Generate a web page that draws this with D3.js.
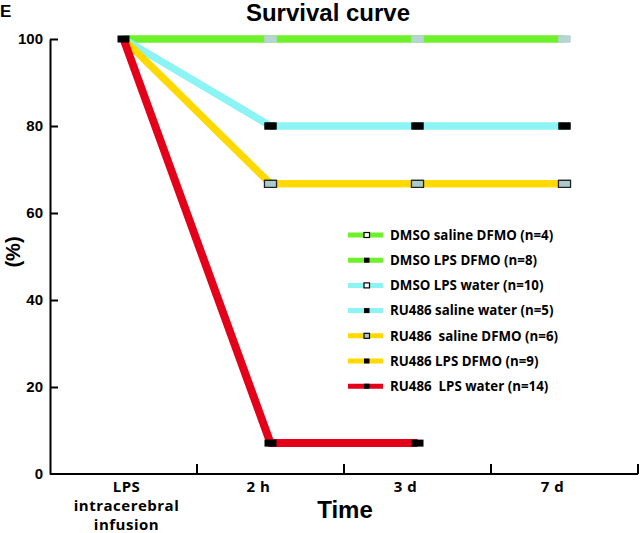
<!DOCTYPE html>
<html>
<head>
<meta charset="utf-8">
<script src="https://cdn.jsdelivr.net/npm/d3@7"></script>
<style>
  html, body { margin: 0; padding: 0; background: #fff; }
  svg { display: block; }
</style>
</head>
<body>
<svg id="chart" width="640" height="533"></svg>
<script>
// ---- data ----
const timeKeys = ["LPS", "2h", "3d", "7d"];
const timeLabels = [["LPS", "intracerebral", "infusion"], ["2 h"], ["3 d"], ["7 d"]];
const groupNames = [
  "DMSO saline DFMO (n=4)",
  "DMSO LPS DFMO (n=8)",
  "DMSO LPS water (n=10)",
  "RU486 saline water (n=5)",
  "RU486\u00a0\u00a0saline DFMO (n=6)",
  "RU486 LPS DFMO (n=9)",
  "RU486\u00a0\u00a0LPS water (n=14)"
];
const dmsoSalineDfmo   = [100, 100, 100, 100];
const dmsoLpsDfmo      = [100, 100, 100, 100];
const dmsoLpsWater     = [100, 80, 80, 80];
const ru486SalineWater = [100, 80, 80, 80];
const ru486SalineDfmo  = [100, 66.7, 66.7, 66.7];
const ru486LpsDfmo     = [100, 66.7, 66.7, 66.7];
const ru486LpsWater    = [100, 7.1, 7.1, null];
const yTicks = [0, 20, 40, 60, 80, 100];

const seriesValues = [dmsoSalineDfmo, dmsoLpsDfmo, dmsoLpsWater, ru486SalineWater,
                      ru486SalineDfmo, ru486LpsDfmo, ru486LpsWater];

// ---- styles ----
const GREEN = "#6ef02a", CYAN = "#8cf4f4", YELLOW = "#ffd900", RED = "#e30018";
const seriesColor = [GREEN, GREEN, CYAN, CYAN, YELLOW, YELLOW, RED];
const seriesWidth = [7, 7, 7, 7, 7, 7, 8];
const chartMarker = ["light", "light", "black", "black", "lightBorder", "lightBorder", "black"];
const legendMarker = ["open", "black", "open", "black", "gray", "black", "black"];

const svg = d3.select("#chart");
const x = d3.scaleBand().domain(timeKeys).range([50, 638]).padding(0);
const y = d3.scaleLinear().domain([0, 100]).range([474, 39]);
const xc = k => x(k) + x.bandwidth() / 2;

// title and panel letter
svg.append("text").attr("x", 0).attr("y", 17)
  .attr("font-family", "Liberation Sans, Arial, sans-serif").attr("font-weight", "bold")
  .attr("font-size", 17).text("E");
svg.append("text").attr("x", 328).attr("y", 21).attr("text-anchor", "middle")
  .attr("font-family", "Liberation Sans, Arial, sans-serif").attr("font-weight", "bold")
  .attr("font-size", 24).text("Survival curve");

// y axis
const yAxis = d3.axisLeft(y).tickValues(yTicks).tickSizeInner(-8).tickSizeOuter(0).tickPadding(7);
const gy = svg.append("g").attr("transform", "translate(50,0)").call(yAxis);
gy.select(".domain").attr("stroke", "#000").attr("stroke-width", 2);
gy.selectAll(".tick line").attr("stroke", "#000").attr("stroke-width", 2)
  .filter(d => d === 0).remove();
gy.selectAll(".tick text").attr("font-family", "Liberation Sans, Arial, sans-serif")
  .attr("font-weight", "bold").attr("font-size", 15).attr("fill", "#000");

svg.append("text")
  .attr("transform", "translate(20,252) rotate(-90)")
  .attr("text-anchor", "middle")
  .attr("font-family", "Liberation Sans, Arial, sans-serif").attr("font-weight", "bold")
  .attr("font-size", 20).text("(%)");

// x axis
const x0 = x.range()[0], x1 = x.range()[1], yb = y(0);
svg.append("path").attr("d", `M${x0},${yb}H${x1}`).attr("stroke", "#000").attr("stroke-width", 2).attr("fill", "none");
svg.selectAll(".xtick").data(timeKeys).enter().append("line")
  .attr("x1", d => x(d) + x.bandwidth()).attr("x2", d => x(d) + x.bandwidth())
  .attr("y1", yb).attr("y2", yb - 10).attr("stroke", "#000").attr("stroke-width", 2);

const xl = svg.selectAll(".xlab").data(timeKeys).enter().append("text")
  .attr("text-anchor", "middle")
  .attr("font-family", "Open Sans, sans-serif").attr("font-weight", "bold")
  .attr("font-size", 15).attr("letter-spacing", 0.5);
xl.each(function (d, i) {
  const t = d3.select(this);
  timeLabels[i].forEach((lineText, j) => {
    t.append("tspan").attr("x", xc(d) + (i === 0 ? 3 : -12)).attr("y", 492 + j * 19).text(lineText);
  });
});

svg.append("text").attr("x", 345).attr("y", 518).attr("text-anchor", "middle")
  .attr("font-family", "Liberation Sans, Arial, sans-serif").attr("font-weight", "bold")
  .attr("font-size", 24).text("Time");

// lines
const line = d3.line()
  .defined(d => d.v != null)
  .x(d => xc(d.k)).y(d => y(d.v));
seriesValues.forEach((vals, s) => {
  svg.append("path")
    .datum(vals.map((v, i) => ({ k: timeKeys[i], v })))
    .attr("d", line).attr("fill", "none")
    .attr("stroke", seriesColor[s]).attr("stroke-width", seriesWidth[s])
    .attr("stroke-linejoin", "round");
});

// markers
function markerStyle(sel, style) {
  if (style === "black") sel.attr("fill", "#000").attr("stroke", "none");
  else if (style === "light") sel.attr("fill", "#b5d4d2").attr("stroke", "none");
  else if (style === "lightBorder") sel.attr("fill", "#a9cbcb").attr("stroke", "#222").attr("stroke-width", 1.2);
  else if (style === "open") sel.attr("fill", "#fff").attr("stroke", "#000").attr("stroke-width", 1.2);
  else if (style === "gray") sel.attr("fill", "#a9cbcb").attr("stroke", "#000").attr("stroke-width", 1.2);
}
const MW = 12, MH = 7;
seriesValues.forEach((vals, s) => {
  vals.forEach((v, i) => {
    if (v == null || i === 0) return;
    const r = svg.append("rect")
      .attr("x", xc(timeKeys[i]) - MW / 2).attr("y", y(v) - MH / 2)
      .attr("width", MW).attr("height", MH);
    markerStyle(r, chartMarker[s]);
  });
});
const r0 = svg.append("rect")
  .attr("x", xc(timeKeys[0]) - MW / 2).attr("y", y(seriesValues[0][0]) - MH / 2)
  .attr("width", MW).attr("height", MH);
markerStyle(r0, "black");

// legend
const lg = svg.append("g");
groupNames.forEach((name, i) => {
  const cy = 235 + i * 25.2;
  lg.append("line").attr("x1", 348).attr("x2", 383).attr("y1", cy).attr("y2", cy)
    .attr("stroke", seriesColor[i]).attr("stroke-width", 5);
  const m = lg.append("rect").attr("x", 364).attr("y", cy - 2.5).attr("width", 5.5).attr("height", 5);
  markerStyle(m, legendMarker[i]);
  lg.append("text").attr("x", 390).attr("y", cy + 4.8)
    .attr("font-family", "Open Sans, sans-serif").attr("font-weight", "bold")
    .attr("font-size", 13.3).attr("fill", "#000").text(name);
});
</script>
</body>
</html>
